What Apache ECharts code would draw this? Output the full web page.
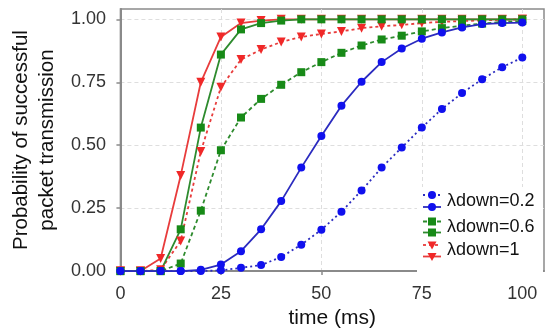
<!DOCTYPE html>
<html>
<head>
<meta charset="utf-8">
<script src="https://cdn.jsdelivr.net/npm/echarts@6/dist/echarts.min.js"></script>
<style>html,body{margin:0;padding:0;background:#fff;}#c{width:550px;height:334px;}</style>
</head>
<body>
<div id="c"></div>
<script>
const time = [0,5,10,15,20,25,30,35,40,45,50,55,60,65,70,75,80,85,90,95,100];
const xTicks = [0,25,50,75,100];
const yTicks = [0,0.25,0.5,0.75,1];
const legendLabels = ['λdown=0.2','λdown=0.6','λdown=1'];

const blueSolid  = [0,0,0,0,0.005,0.026,0.079,0.166,0.278,0.411,0.537,0.657,0.752,0.83,0.884,0.923,0.948,0.968,0.981,0.985,0.987];
const blueDotted = [0,0,0,0,0,0.003,0.013,0.024,0.056,0.105,0.164,0.236,0.32,0.411,0.491,0.57,0.644,0.707,0.762,0.81,0.848];
const greenSolid = [0,0,0,0.166,0.57,0.86,0.96,0.985,0.995,1,1,1,1,1,1,1,1,1,1,1,1];
const greenDashed= [0,0,0,0.03,0.24,0.48,0.61,0.684,0.74,0.79,0.83,0.867,0.896,0.92,0.935,0.952,0.965,0.975,0.983,0.99,0.993];
const redSolid   = [0,0,0.05,0.38,0.75,0.93,0.985,0.995,1,1,1,1,1,1,1,1,1,1,1,1,1];
const redDotted  = [0,0,0.005,0.12,0.475,0.73,0.84,0.88,0.91,0.93,0.942,0.952,0.965,0.972,0.978,0.985,0.99,0.993,0.996,0.998,1];

const BLUE_L = '#2b2bbf', BLUE_M = '#1010ee';
const GREEN_L = '#2e8b2e', GREEN_M = '#178a17';
const RED_L = '#e83c3c', RED_M = '#f02828';
const FONT = 'Liberation Sans, Arial, sans-serif';

function mk(name, data, lineColor, markColor, lineType, symbol, size, rot) {
  return {
    name: name, type: 'line',
    data: time.map((t, i) => [t, data[i]]),
    symbol: symbol, symbolSize: size, symbolRotate: rot || 0,
    showAllSymbol: true,
    lineStyle: { color: lineColor, width: 1.8, type: lineType },
    itemStyle: { color: markColor },
    emphasis: { disabled: true },
    animation: false,
    clip: false
  };
}

const series = [
  mk('rd', redDotted, RED_L, RED_M, [3,3], 'triangle', 9, 180),
  mk('rs', redSolid, RED_L, RED_M, 'solid', 'triangle', 9, 180),
  mk('gd', greenDashed, GREEN_L, GREEN_M, [4,3], 'rect', 8),
  mk('gs', greenSolid, GREEN_L, GREEN_M, 'solid', 'rect', 8),
  mk('bd', blueDotted, BLUE_L, BLUE_M, [2,3], 'circle', 8),
  mk('bs', blueSolid, BLUE_L, BLUE_M, 'solid', 'circle', 8)
];

// legend drawn as graphic
const legendRows = [
  {dy: 195, sy: 207, ly: 201, line: BLUE_L, mark: BLUE_M, shape: 'circle', dash: [2,3]},
  {dy: 221.5, sy: 232.5, ly: 227, line: GREEN_L, mark: GREEN_M, shape: 'rect', dash: [4,3]},
  {dy: 245, sy: 256.5, ly: 250.5, line: RED_L, mark: RED_M, shape: 'tri', dash: [3,3]}
];
function markerEl(shape, cx, cy, color) {
  if (shape === 'circle') return {type:'circle', shape:{cx:cx, cy:cy, r:4}, style:{fill:color}};
  if (shape === 'rect') return {type:'rect', shape:{x:cx-4, y:cy-4, width:8, height:8}, style:{fill:color}};
  return {type:'polygon', shape:{points:[[cx-4.5,cy-3.5],[cx+4.5,cy-3.5],[cx,cy+4.5]]}, style:{fill:color}};
}
const graphics = [{type:'rect', shape:{x:417, y:187, width:126, height:89}, style:{fill:'#fff', stroke:null}, z:50}];
legendRows.forEach((r, i) => {
  graphics.push({type:'line', shape:{x1:423, y1:r.dy, x2:441, y2:r.dy}, style:{stroke:r.line, lineWidth:1.8, lineDash:r.dash}, z:51});
  graphics.push(Object.assign(markerEl(r.shape, 432, r.dy, r.mark), {z:52}));
  graphics.push({type:'line', shape:{x1:423, y1:r.sy, x2:441, y2:r.sy}, style:{stroke:r.line, lineWidth:1.8}, z:51});
  graphics.push(Object.assign(markerEl(r.shape, 432, r.sy, r.mark), {z:52}));
  graphics.push({type:'text', x:447, y:r.ly, style:{text:legendLabels[i], fill:'#111', font:'18px ' + FONT, verticalAlign:'middle', align:'left'}, z:52});
});

const chart = echarts.init(document.getElementById('c'), null, {renderer:'canvas'});
chart.setOption({
  backgroundColor: '#fff',
  animation: false,
  grid: { left: 113, right: 6, top: 9, bottom: 60, show: true, borderColor: '#8a8a8a', borderWidth: 1.5, backgroundColor: 'transparent', containLabel: false },
  xAxis: {
    type: 'value', min: 0, max: 105.4, interval: 25, offset: 9,
    name: 'time (ms)', nameLocation: 'middle', nameGap: 23,
    nameTextStyle: { fontSize: 21, color: '#111', fontFamily: FONT },
    axisLine: { show: true, lineStyle: { color: '#8a8a8a', width: 2 } },
    axisTick: { show: true, length: 4, customValues: xTicks, lineStyle: { color: '#8a8a8a', width: 1.5 } },
    axisLabel: { customValues: xTicks, showMaxLabel: true, margin: 5, fontSize: 18, color: '#333', fontFamily: FONT },
    splitLine: { show: true, lineStyle: { color: '#dedede', type: [4,3], width: 1 } }
  },
  yAxis: {
    type: 'value', min: 0, max: 1.041, interval: 0.25, offset: 6,
    name: 'Probability of successful\npacket transmission', nameLocation: 'middle', nameGap: 50, nameRotate: 90,
    nameTextStyle: { fontSize: 20.5, color: '#111', fontFamily: FONT, lineHeight: 26 },
    axisLine: { show: true, lineStyle: { color: '#8a8a8a', width: 2 } },
    axisTick: { show: true, length: 4, customValues: yTicks, lineStyle: { color: '#8a8a8a', width: 1.5 } },
    axisLabel: { customValues: yTicks, margin: 8.5, fontSize: 18, color: '#333', fontFamily: FONT, formatter: v => v.toFixed(2) },
    splitLine: { show: true, lineStyle: { color: '#dedede', type: [4,3], width: 1 } }
  },
  series: series,
  graphic: graphics
});
</script>
</body>
</html>
